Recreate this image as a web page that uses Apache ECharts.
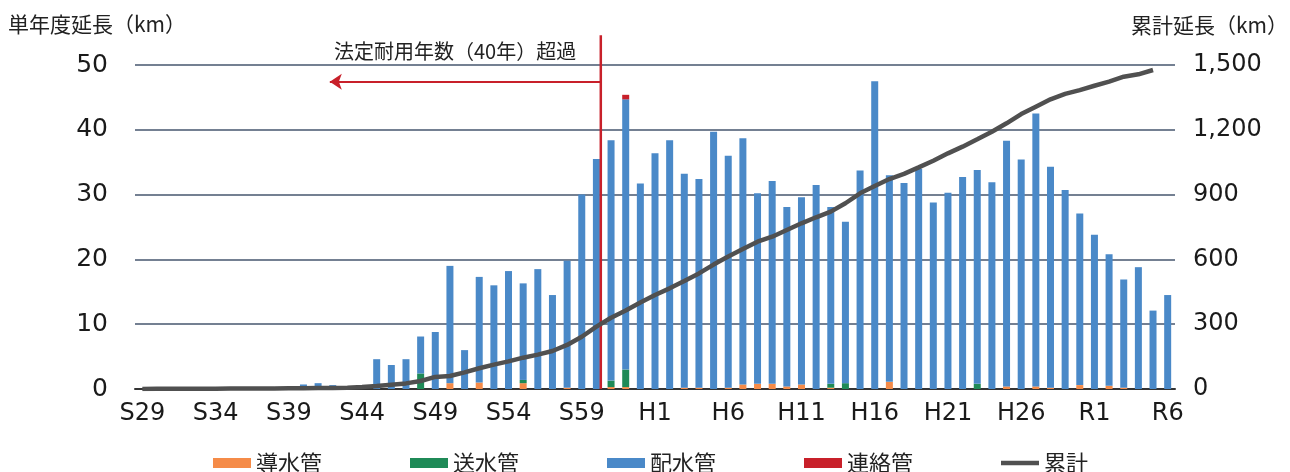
<!DOCTYPE html>
<html>
<head>
<meta charset="utf-8">
<script src="https://cdn.jsdelivr.net/npm/echarts@6.0.0/dist/echarts.min.js"></script>
<style>
html,body{margin:0;padding:0;background:#fff;}
#chart{width:1290px;height:472px;}
</style>
</head>
<body>
<div id="chart"></div>
<script>
const categories = [
  'S29','S30','S31','S32','S33','S34','S35','S36','S37','S38','S39','S40','S41','S42','S43','S44','S45','S46','S47','S48',
  'S49','S50','S51','S52','S53','S54','S55','S56','S57','S58','S59','S60','S61','S62','S63',
  'H1','H2','H3','H4','H5','H6','H7','H8','H9','H10','H11','H12','H13','H14','H15','H16','H17','H18','H19','H20',
  'H21','H22','H23','H24','H25','H26','H27','H28','H29','H30',
  'R1','R2','R3','R4','R5','R6'
];
// 導水管
const dosui = [
  0,0,0,0,0,0,0,0,0,0, 0,0,0,0,0,0,0,0,0,0, 0,0.9,0,1.0,0,0,0.9,0,0,0.2, 0,0,0.3,0.3,0,
  0,0,0.2,0.2,0,0.2,0.7,0.8,0.8,0.4, 0.7,0,0.2,0,0,0,1.1,0,0,0, 0,0,0,0,0.4,0,0.4,0.2,0,0.6,
  0,0.5,0.2,0,0,0
];
// 送水管
const sosui = [
  0,0,0,0,0,0,0,0,0,0, 0,0,0,0,0,0,0,0,0,2.4, 0,0,0,0,0,0,0.5,0,0,0, 0,0,1.0,2.7,0,
  0,0,0,0,0,0,0,0,0,0, 0,0,0.6,0.9,0,0,0,0,0,0, 0,0,0.8,0,0,0,0,0,0,0,
  0,0,0,0,0,0
];
// 配水管
const haisui = [
  0,0,0,0,0,0,0,0,0,0, 0,0.7,0.9,0.6,0,0.2,4.6,3.7,4.6,5.7, 8.8,18.1,6.0,16.3,16.0,18.2,14.9,18.5,14.5,19.6, 30.0,35.5,37.1,41.7,31.7,
  36.4,38.4,33.0,32.2,39.7,35.8,38.0,29.4,31.3,27.7, 28.9,31.5,27.3,24.9,33.7,47.5,31.9,31.8,34.0,28.8, 30.3,32.7,33.0,31.9,37.9,35.4,42.1,34.1,30.7,26.5,
  23.8,20.3,16.7,18.8,12.1,14.5
];
// 連絡管
const renraku = [
  0,0,0,0,0,0,0,0,0,0, 0,0,0,0,0,0,0,0,0,0, 0,0,0,0,0,0,0,0,0,0, 0,0,0,0.7,0,
  0,0,0,0,0,0,0,0,0,0, 0,0,0,0,0,0,0,0,0,0, 0,0,0,0,0,0,0,0,0,0,
  0,0,0,0,0,0
];
// 累計
const ruikei = [
  0,1,1,1,1.5,1.5,2,2,2,2.5, 3,3.5,4.5,5,6,9,14,20,26,37, 56,60,77,96,113,128,145,159,176,204, 242,289,330,363,400,
  435,466,500,535,576,613,648,682,705,736, 767,795,821,860,906,940,972,996,1026,1057, 1091,1122,1156,1191,1230,1273,1307,1341,1366,1384,
  1404,1423,1446,1457,1477,null
];
// annotation (data units)
const limitX = 31.3;        // category position of the 40-year limit line
const limitTop = 54.6;
const arrowY = 47.4;
const arrowEndX = 12.8;
const noteX = 21.35;
const noteText = '法定耐用年数（40年）超過';

const CJK = "'Noto Sans CJK JP', sans-serif";
const NUM = "'DejaVu Sans', 'Noto Sans CJK JP', sans-serif";
const C = {orange:'#F58B48', green:'#1F8A57', blue:'#4A89C8', red:'#C8202A', gray:'#505050'};
const lineIcon = 'path://M0,0h0.01v0.01h-0.01z M0,2.6h40v4.8h-40z M39.99,9.99h0.01v0.01h-0.01z';

const chart = echarts.init(document.getElementById('chart'), null, {renderer:'canvas'});
chart.setOption({
  animation:false,
  title:[
    {text:'単年度延長（km）', left:8, top:14, padding:0, textStyle:{fontSize:21, fontWeight:'normal', color:'#222', fontFamily:CJK}},
    {text:'累計延長（km）', right:2, top:15, padding:0, textStyle:{fontSize:21, fontWeight:'normal', color:'#222', fontFamily:CJK}}
  ],
  grid:{left:135, right:115, top:65, bottom:83},
  legend:{
    left:213, top:452, padding:0, itemWidth:38, itemHeight:10, itemGap:88,
    textStyle:{fontSize:22, color:'#222', fontFamily:CJK},
    data:[{name:'導水管',icon:'rect'},{name:'送水管',icon:'rect'},{name:'配水管',icon:'rect'},{name:'連絡管',icon:'rect'},{name:'累計',icon:lineIcon}]
  },
  xAxis:[
    {type:'category', data:categories, boundaryGap:true,
     axisLine:{lineStyle:{color:'#333', width:2}}, axisTick:{show:false},
     axisLabel:{interval:4, fontSize:24, color:'#1a1a1a', fontFamily:NUM, margin:13}},
    {type:'value', min:-0.5, max:70.5, show:false}
  ],
  yAxis:[
    {type:'value', min:0, max:50, interval:10,
     axisLine:{show:false}, axisTick:{show:false},
     axisLabel:{fontSize:25, color:'#1a1a1a', fontFamily:NUM, margin:27},
     splitLine:{lineStyle:{color:'#46566E', width:1.5}}},
    {type:'value', min:0, max:1500, interval:300,
     axisLine:{show:false}, axisTick:{show:false}, splitLine:{show:false},
     axisLabel:{fontSize:24, color:'#1a1a1a', fontFamily:NUM, margin:18,
       formatter:v=>v.toLocaleString('en-US')}}
  ],
  series:[
    {name:'導水管', type:'bar', stack:'a', data:dosui, barWidth:7, itemStyle:{color:C.orange}},
    {name:'送水管', type:'bar', stack:'a', data:sosui, barWidth:7, itemStyle:{color:C.green}},
    {name:'配水管', type:'bar', stack:'a', data:haisui, barWidth:7, itemStyle:{color:C.blue}},
    {name:'連絡管', type:'bar', stack:'a', data:renraku, barWidth:7, itemStyle:{color:C.red}},
    {name:'limit', type:'line', xAxisIndex:1, yAxisIndex:0, clip:false, silent:true, z:3,
     data:[[limitX,0],[limitX,limitTop]], symbol:'none', lineStyle:{color:C.red, width:2.5},
     markLine:{silent:true, symbol:['none','arrow'], symbolSize:12,
       lineStyle:{color:C.red, width:2, type:'solid'}, label:{show:false},
       data:[[{coord:[limitX,arrowY]},{coord:[arrowEndX,arrowY]}]]},
     markPoint:{silent:true, symbol:'rect', symbolSize:1, itemStyle:{color:'rgba(0,0,0,0)'},
       label:{show:true, position:'inside', offset:[0,-14], formatter:noteText, fontSize:20, color:'#222', fontFamily:CJK},
       data:[{coord:[noteX,50]}]}
    },
    {name:'累計', type:'line', yAxisIndex:1, data:ruikei, symbol:'none', z:4,
     lineStyle:{color:C.gray, width:4.5}, itemStyle:{color:C.gray}}
  ]
});
</script>
</body>
</html>
